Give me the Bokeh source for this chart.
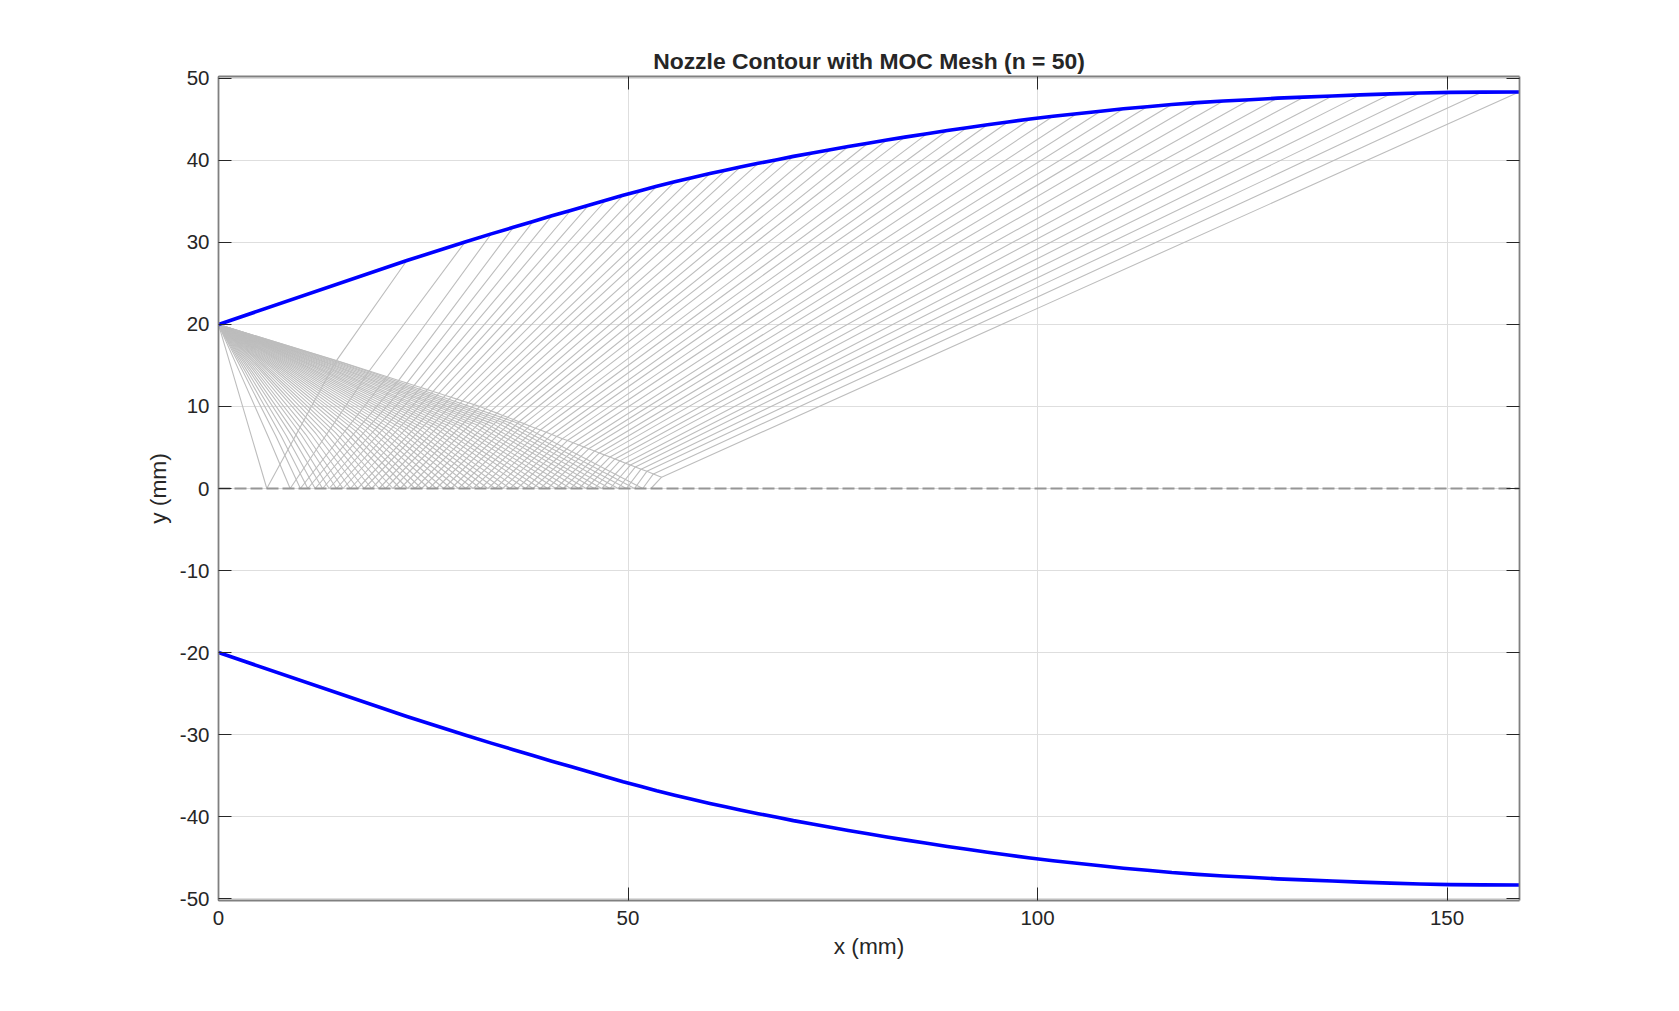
from bokeh.plotting import figure
from bokeh.models import LinearAxis, FixedTicker, Range1d, Title
from bokeh.embed import file_html
from bokeh.resources import INLINE

# values
title_text = "Nozzle Contour with MOC Mesh (n = 50)"
x_ticks = [0, 50, 100, 150]
x_tick_labels = ["0", "50", "100", "150"]
y_ticks = [-50, -40, -30, -20, -10, 0, 10, 20, 30, 40, 50]
y_tick_labels = ["-50", "-40", "-30", "-20", "-10", "0", "10", "20", "30", "40", "50"]

corner_x = 0.0
corner_y = 20.0

wall_x = [23.0, 30.1, 33.3, 36.0, 38.4, 40.7, 43.0, 45.2, 47.3, 49.4,
          51.5, 53.5, 55.7, 57.8, 60.0, 61.9, 63.7, 65.9, 68.2, 70.2,
          72.5, 74.7, 76.9, 79.3, 81.6, 83.8, 86.5, 89.0, 91.4, 93.9,
          96.4, 99.1, 101.9, 104.8, 107.7, 110.5, 113.4, 116.4, 119.5, 122.7,
          125.9, 129.3, 132.5, 136.0, 139.4, 143.1, 146.7, 150.4, 154.3, 158.8]
wall_y = [27.8, 30.05, 31.05, 31.85, 32.55, 33.25, 33.9, 34.55, 35.15, 35.75,
          36.3, 36.85, 37.4, 37.9, 38.4, 38.8, 39.2, 39.65, 40.1, 40.5,
          40.9, 41.3, 41.7, 42.1, 42.5, 42.85, 43.25, 43.65, 44.0, 44.35,
          44.7, 45.05, 45.4, 45.7, 46.0, 46.3, 46.55, 46.83, 47.05, 47.25,
          47.4, 47.6, 47.72, 47.87, 48.0, 48.12, 48.22, 48.3, 48.34, 48.35]

axis_x = [5.9, 8.75, 10.0, 10.9, 11.8, 12.7, 13.5, 14.4, 15.2, 16.1,
          17.0, 17.8, 18.7, 19.6, 20.4, 21.3, 22.2, 23.1, 24.0, 24.8,
          25.7, 26.6, 27.5, 28.4, 29.3, 30.2, 31.1, 32.0, 32.9, 33.8,
          34.7, 35.6, 36.5, 37.5, 38.4, 39.3, 40.2, 41.2, 42.1, 43.0,
          44.0, 44.9, 45.9, 46.8, 47.8, 48.8, 49.8, 50.8, 51.8, 52.8]

edge_x = [14.4, 18.4, 20.6, 22.0, 23.0, 23.9, 24.7, 25.5, 26.2, 26.9,
          27.7, 28.4, 29.1, 29.8, 30.5, 31.2, 31.9, 32.6, 33.3, 34.0,
          34.7, 35.3, 36.0, 36.7, 37.3, 38.0, 38.7, 39.3, 40.0, 40.7,
          41.3, 42.0, 42.6, 43.3, 44.0, 44.6, 45.2, 45.9, 46.5, 47.1,
          47.8, 48.4, 49.0, 49.7, 50.3, 50.9, 51.6, 52.3, 53.1, 54.1]
edge_y = [15.6, 14.33, 13.63, 13.18, 12.86, 12.57, 12.31, 12.06, 11.83, 11.61,
          11.35, 11.13, 10.9, 10.68, 10.45, 10.23, 10.0, 9.73, 9.46, 9.19,
          8.91, 8.68, 8.41, 8.14, 7.91, 7.63, 7.36, 7.13, 6.86, 6.59,
          6.35, 6.08, 5.85, 5.58, 5.31, 5.07, 4.84, 4.57, 4.34, 4.10,
          3.83, 3.60, 3.37, 3.09, 2.86, 2.63, 2.36, 2.09, 1.78, 1.38]

fan_a_x = [1.77, 2.63, 3.0, 3.27, 3.54, 3.81, 4.05, 4.32, 4.56, 4.83,
           5.1, 5.34, 5.61, 5.88, 6.12, 6.39, 6.66, 6.93, 7.2, 7.44,
           7.71, 7.98, 8.25, 8.52, 8.79, 9.06, 9.33, 9.6, 9.87, 10.14,
           10.41, 10.68, 10.95, 11.25, 11.52, 11.79, 12.06, 12.36, 12.63, 12.9,
           13.2, 13.47, 13.77, 14.04, 14.34, 14.64, 14.94, 15.24, 15.54]
fan_a_y = [14.0, 14.1, 14.24, 14.26, 14.28, 14.3, 14.32, 14.34, 14.36, 14.38,
           14.4, 14.42, 14.44, 14.46, 14.48, 14.5, 14.52, 14.54, 14.56, 14.58,
           14.6, 14.63, 14.65, 14.67, 14.69, 14.71, 14.73, 14.75, 14.77, 14.79,
           14.82, 14.84, 14.86, 14.88, 14.9, 14.92, 14.94, 14.97, 14.99, 15.01,
           15.03, 15.06, 15.08, 15.1, 15.12, 15.15, 15.17, 15.19, 15.22]
fan_b_x = [4.13, 6.13, 7.0, 7.63, 8.26, 8.89, 9.45, 10.08, 10.64, 11.27,
           11.9, 12.46, 13.09, 13.72, 14.28, 14.91, 15.54, 16.17, 16.8, 17.36,
           17.99, 18.62, 19.25, 19.88, 20.51, 21.14, 21.77, 22.4, 23.03, 23.66,
           24.29, 24.92, 25.55, 26.25, 26.88, 27.51, 28.14, 28.84, 29.47, 30.1,
           30.8, 31.43, 32.13, 32.76, 33.46, 34.16, 34.86, 35.56, 36.26]
fan_b_y = [6.0, 6.2, 6.4, 6.44, 6.47, 6.51, 6.54, 6.58, 6.61, 6.64,
           6.68, 6.71, 6.75, 6.78, 6.82, 6.85, 6.89, 6.92, 6.96, 6.99,
           7.03, 7.06, 7.1, 7.14, 7.17, 7.21, 7.24, 7.28, 7.32, 7.35,
           7.39, 7.42, 7.46, 7.5, 7.54, 7.57, 7.61, 7.65, 7.68, 7.72,
           7.76, 7.8, 7.84, 7.87, 7.91, 7.95, 7.99, 8.03, 8.07]

X_MAX = 158.85
Y_LIM = 50.24
DARK = "#262626"
FRAME = "#808080"

p = figure(width=1663, height=995, output_backend="svg", toolbar_location=None,
           x_range=Range1d(0, X_MAX), y_range=Range1d(-Y_LIM, Y_LIM),
           min_border_left=218, min_border_right=144, min_border_top=76, min_border_bottom=95,
           x_axis_label="x (mm)", y_axis_label="y (mm)")
p.outline_line_color = None
p.background_fill_color = "white"

top = LinearAxis()
right = LinearAxis()
p.add_layout(top, "above")
p.add_layout(right, "right")

t = Title(text=title_text, align="center", text_font="Liberation Sans", text_font_size="22.9px",
          text_font_style="bold", text_color=DARK, standoff=5)
p.add_layout(t, "above")

for ax, ticks, labels in [(p.below[0], x_ticks, x_tick_labels), (p.left[0], y_ticks, y_tick_labels)]:
    ax.ticker = FixedTicker(ticks=ticks)
    ax.major_label_overrides = dict(zip(ticks, labels))
    ax.major_label_text_font = "Liberation Sans"
    ax.major_label_text_font_size = "20.5px"
    ax.major_label_text_color = DARK
    ax.axis_label_text_font = "Liberation Sans"
    ax.axis_label_text_font_size = "22.7px"
    ax.axis_label_text_font_style = "normal"
    ax.axis_label_text_color = DARK

for ax, ticks in [(top, x_ticks), (right, y_ticks)]:
    ax.ticker = FixedTicker(ticks=ticks)
    ax.major_label_overrides = {k: "" for k in ticks}
    ax.major_label_standoff = 0

for ax in [p.below[0], p.left[0], top, right]:
    ax.major_tick_in = 13
    ax.major_tick_out = 0
    ax.minor_tick_in = 0
    ax.minor_tick_out = 0
    ax.major_tick_line_color = DARK
    ax.major_tick_line_width = 1
    ax.axis_line_color = FRAME
    ax.axis_line_width = 1.8

p.below[0].major_label_standoff = 10
p.left[0].major_label_standoff = 9
p.below[0].axis_label_standoff = 5
p.left[0].axis_label_standoff = 6

for g in [p.xgrid[0], p.ygrid[0]]:
    g.grid_line_color = "#dedede"
    g.grid_line_width = 1
p.xgrid[0].ticker = FixedTicker(ticks=x_ticks)
p.ygrid[0].ticker = FixedTicker(ticks=y_ticks)

# reflected characteristics: axis point -> edge of the crossing region -> wall
mesh_xs = [[a, e, w] for a, e, w in zip(axis_x, edge_x, wall_x)]
mesh_ys = [[0.0, e, w] for e, w in zip(edge_y, wall_y)]
# fan lines from the corner to the axis
for ax_, ay_, bx_, by_, a in zip(fan_a_x, fan_a_y, fan_b_x, fan_b_y, axis_x):
    mesh_xs.append([corner_x, ax_, bx_, a])
    mesh_ys.append([corner_y, ay_, by_, 0.0])
# last fan line forms the edge of the crossing region
mesh_xs.append([corner_x] + edge_x)
mesh_ys.append([corner_y] + edge_y)

p.multi_line(mesh_xs, mesh_ys, line_color="#bdbdbd", line_width=1.1, line_join="round")

p.line([0, X_MAX], [0, 0], line_color="#969696", line_width=2, line_dash="12 4")

cx = [corner_x] + wall_x
cy = [corner_y] + wall_y
p.line(cx, cy, line_color="#0000ff", line_width=3.6, line_join="round")
p.line(cx, [-v for v in cy], line_color="#0000ff", line_width=3.6, line_join="round")

open("out.html", "w").write(file_html(p, INLINE))
